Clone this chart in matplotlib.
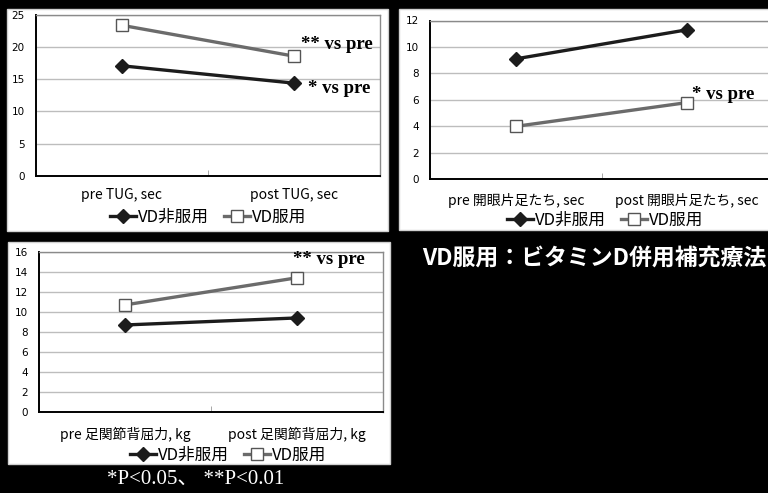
import matplotlib
matplotlib.use("Agg")
import matplotlib.pyplot as plt
from matplotlib.patches import Rectangle
from matplotlib.lines import Line2D

plt.rcParams['font.family'] = ['Noto Sans CJK JP', 'DejaVu Sans']

W, H = 768, 493
DPI = 100

# data
series_names = ["VD非服用", "VD服用"]
tug_labels = ["pre TUG, sec", "post TUG, sec"]
tug_non = [17.1, 14.4]
tug_vd = [23.4, 18.6]

stand_labels = ["pre 開眼片足たち, sec", "post 開眼片足たち, sec"]
stand_non = [9.1, 11.3]
stand_vd = [4.0, 5.8]

ankle_labels = ["pre 足関節背屈力, kg", "post 足関節背屈力, kg"]
ankle_non = [8.7, 9.4]
ankle_vd = [10.7, 13.4]

footnote = "*P<0.05、 **P<0.01"
caption = "VD服用：ビタミンD併用補充療法"

BLACK_LINE = "#1c1c1c"
GRAY_LINE = "#6b6b6b"
YTICK_FONT = ["DejaVu Sans", "Noto Sans CJK JP"]

fig = plt.figure(figsize=(W / DPI, H / DPI), dpi=DPI, facecolor="black")


def px_rect(x0, y0, x1, y1):
    """Pixel box (top-left origin) -> figure fraction [l, b, w, h]."""
    return [x0 / W, 1 - y1 / H, (x1 - x0) / W, (y1 - y0) / H]


def panel_bg(x0, y0, x1, y1):
    l, b, w, h = px_rect(x0, y0, x1, y1)
    fig.patches.append(Rectangle((l, b), w, h, transform=fig.transFigure,
                                 facecolor="white", edgecolor="#d0d0d0",
                                 linewidth=1.0, zorder=-5))


def draw_chart(box, labels, non, vd, ymax, ystep, legend_xy, notes, xpad):
    ax = fig.add_axes(px_rect(*box))
    ax.set_facecolor("white")
    x = [0, 1]
    ax.plot(x, non, color=BLACK_LINE, lw=2.4, marker="D", ms=7,
            mfc=BLACK_LINE, mec=BLACK_LINE, zorder=3, clip_on=False)
    ax.plot(x, vd, color=GRAY_LINE, lw=2.4, marker="s", ms=8.5,
            mfc="white", mec="#555555", mew=1.0, zorder=3, clip_on=False)
    ax.set_xlim(-0.5, 1.5)
    ax.set_ylim(0, ymax)
    ax.set_yticks(range(0, ymax + 1, ystep))
    ax.set_xticks(x)
    ax.set_xticklabels(labels, fontsize=10)
    for t in ax.get_yticklabels():
        t.set_family(YTICK_FONT)
    ax.yaxis.grid(True, color="#bdbdbd", lw=1.0)
    ax.set_axisbelow(True)
    ax.tick_params(axis="y", length=0, pad=8, labelsize=7.5)
    ax.tick_params(axis="x", length=0, pad=xpad)
    ax.set_xticks([0.5], minor=True)
    ax.tick_params(axis="x", which="minor", direction="in", length=4,
                   color="#999999")
    for side in ("left", "bottom"):
        ax.spines[side].set_color("black")
        ax.spines[side].set_linewidth(1.4)
    for side in ("top", "right"):
        ax.spines[side].set_color("#8a8a8a")
        ax.spines[side].set_linewidth(1.0)

    # significance notes, offsets in pixels (dx right, dy down)
    for (idx, series, text, dx, dy) in notes:
        yv = (non if series == 0 else vd)[idx]
        ax.annotate(text, xy=(idx, yv), xytext=(dx * 0.72, -dy * 0.72),
                    textcoords="offset points", ha="left", va="center",
                    fontsize=13.5, fontweight="bold",
                    family=["Liberation Serif", "DejaVu Serif"], zorder=4)

    handles = [
        Line2D([], [], color=BLACK_LINE, lw=2.4, marker="D", ms=7,
               mfc=BLACK_LINE, mec=BLACK_LINE),
        Line2D([], [], color=GRAY_LINE, lw=2.4, marker="s", ms=8.5,
               mfc="white", mec="#555555", mew=1.0),
    ]
    lx, ly = legend_xy
    fig.legend(handles, series_names, loc="center",
               bbox_to_anchor=(lx / W, 1 - ly / H), ncol=2, frameon=False,
               fontsize=12, handlelength=1.6, handletextpad=0.1,
               columnspacing=0.9, borderpad=0, borderaxespad=0)
    return ax


# panel backgrounds
panel_bg(7, 9, 388, 231)
panel_bg(399, 9, 775, 230)
panel_bg(8, 242, 390, 464)

draw_chart((35.7, 15, 380, 175.7), tug_labels, tug_non, tug_vd, 25, 5,
           (208, 217),
           [(1, 1, "** vs pre", 7, -12), (1, 0, "* vs pre", 14, 5)], 9)
draw_chart((430, 20.5, 773, 179.3), stand_labels, stand_non, stand_vd, 12, 2,
           (605, 220),
           [(1, 1, "* vs pre", 5, -8)], 10)
draw_chart((39.3, 251.7, 382.6, 412.3), ankle_labels, ankle_non, ankle_vd,
           16, 2, (228, 455),
           [(1, 1, "** vs pre", -4, -18)], 10.5)

fig.text(196 / W, 1 - 479 / H, footnote, color="white", ha="center",
         va="center", fontsize=15,
         family=["Liberation Serif", "Noto Sans CJK JP"])
fig.text(422 / W, 1 - 258 / H, caption, color="white", ha="left",
         va="center", fontsize=16.5, fontweight="bold")

fig.savefig("out.png", dpi=DPI, facecolor="black")
